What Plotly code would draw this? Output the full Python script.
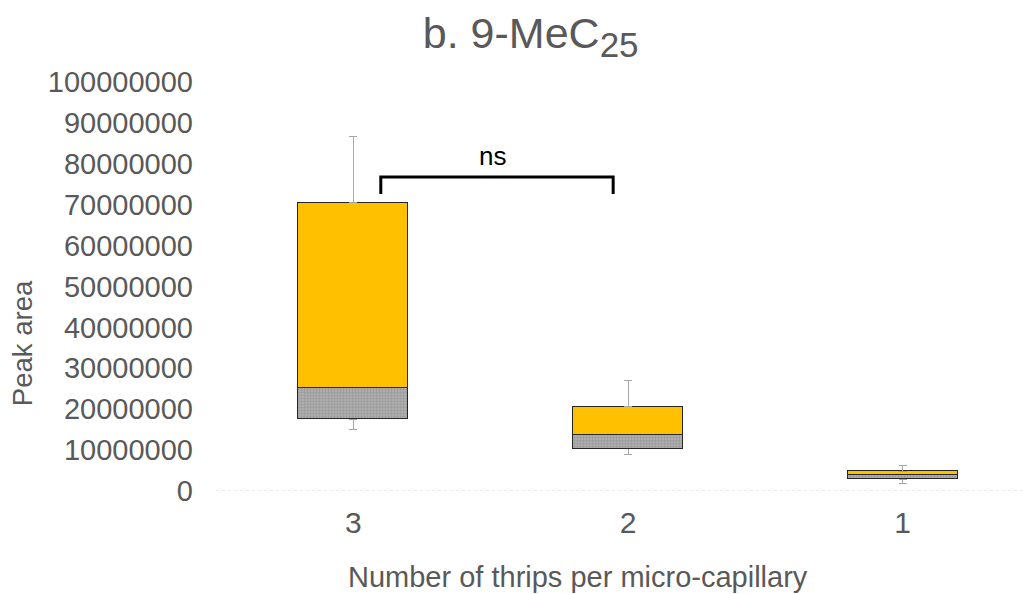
import plotly.graph_objects as go

# ---- data ----
categories = ["3", "2", "1"]
whisker_min = [15100000, 8900000, 1900000]
q1 = [17500000, 10300000, 2900000]
median = [25300000, 13800000, 3900000]
q3 = [70500000, 20600000, 4800000]
whisker_max = [86600000, 26900000, 6200000]
y_ticks = [0, 10000000, 20000000, 30000000, 40000000, 50000000,
           60000000, 70000000, 80000000, 90000000, 100000000]

# significance bracket between groups "3" and "2"
bracket_x = [0.10, 0.10, 0.946, 0.946]
bracket_y = [72600000, 76800000, 76800000, 72600000]
bracket_label = "ns"
bracket_label_x = 0.505

xpos = list(range(len(categories)))
grey_h = [m - a for m, a in zip(median, q1)]
yellow_h = [b - m for b, m in zip(q3, median)]
err_up = [w - b for w, b in zip(whisker_max, q3)]
err_down = [a - w for a, w in zip(q1, whisker_min)]

TXT = "#595959"
FONT = "Liberation Sans, Arial, sans-serif"
BW = 0.40

fig = go.Figure()
fig.add_trace(go.Bar(
    x=xpos, y=q1, width=BW, marker=dict(color="rgba(0,0,0,0)", line=dict(width=0)),
    error_y=dict(type="data", symmetric=False, array=[0]*3, arrayminus=err_down,
                 color="#A6A6A6", thickness=1, width=4),
    hoverinfo="skip", showlegend=False))
fig.add_trace(go.Bar(
    x=xpos, y=grey_h, width=BW,
    marker=dict(color="#A6A6A6",
                pattern=dict(shape=".", fgcolor="#7F7F7F", bgcolor="#AEAEAE", size=3, solidity=0.35),
                line=dict(color="#262626", width=1.5)),
    showlegend=False))
fig.add_trace(go.Bar(
    x=xpos, y=yellow_h, width=BW,
    marker=dict(color="#FFC000", line=dict(color="#262626", width=1.5)),
    error_y=dict(type="data", symmetric=False, array=err_up, arrayminus=[0]*3,
                 color="#A6A6A6", thickness=1, width=4),
    showlegend=False))

fig.add_trace(go.Scatter(
    x=bracket_x, y=bracket_y, mode="lines",
    line=dict(color="#000000", width=3), hoverinfo="skip", showlegend=False))
fig.add_annotation(x=bracket_label_x, y=bracket_y[1], yshift=4, text=bracket_label,
                   showarrow=False, yanchor="bottom",
                   font=dict(family=FONT, size=26, color="#000000"))

fig.add_shape(type="line", xref="paper", x0=0, x1=1, yref="y", y0=0, y1=0,
              line=dict(color="#D9D9D9", width=1, dash="dot"), layer="below")

# axis titles (placed off-centre as in the reference)
fig.add_annotation(xref="paper", yref="paper", x=-0.234, y=0.362, text="Peak area",
                   textangle=-90, showarrow=False, xanchor="center", yanchor="middle",
                   font=dict(family=FONT, size=27.5, color=TXT))
fig.add_annotation(xref="paper", yref="paper", x=0.439, y=-0.210,
                   text="Number of thrips per micro-capillary",
                   showarrow=False, xanchor="center", yanchor="middle",
                   font=dict(family=FONT, size=29, color=TXT))

fig.update_layout(
    width=1033, height=594, barmode="stack", bargap=0,
    paper_bgcolor="white", plot_bgcolor="white",
    margin=dict(l=208, r=1, t=74, b=111),
    font=dict(family=FONT, color=TXT),
    title=dict(text="b. 9-MeC<sub><span style='font-size:35px'>25</span></sub>",
               x=0.506, xanchor="center", y=0.958, yanchor="middle",
               font=dict(family=FONT, size=43, color=TXT)),
    xaxis=dict(range=[-0.5, 2.5], tickvals=xpos, ticktext=categories,
               showgrid=False, zeroline=False, showline=False, ticks="",
               tickfont=dict(size=30, color=TXT), ticklabelstandoff=11),
    yaxis=dict(range=[0, 100000000], tickvals=y_ticks,
               ticktext=[str(v) for v in y_ticks],
               showgrid=False, zeroline=False, showline=False, ticks="",
               tickfont=dict(size=29, color=TXT), ticklabelstandoff=22),
)

fig.write_html("out.html")
